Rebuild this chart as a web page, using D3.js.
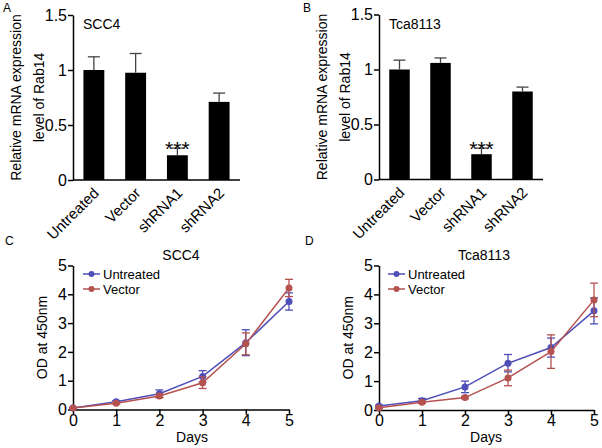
<!DOCTYPE html>
<html><head><meta charset="utf-8">
<script src="https://cdn.jsdelivr.net/npm/d3@7"></script>
<style>
body{margin:0;background:#fff;}
svg{font-family:"Liberation Sans",Arial,sans-serif;}
</style></head><body>
<svg id="c" width="602" height="448"></svg>
<script>
// ---- data ----
const barCategories = ["Untreated","Vector","shRNA1","shRNA2"];
const barTicks = [0,0.5,1,1.5];
const barTickLabels = ["0","0.5","1","1.5"];
const scc4Expr = [1.00, 0.975, 0.225, 0.71];
const scc4ExprErr = [0.12, 0.175, 0.065, 0.08];
const tcaExpr = [1.00, 1.06, 0.23, 0.80];
const tcaExprErr = [0.085, 0.045, 0.055, 0.04];
const sigLabels = ["", "", "***", ""];

const days = [0,1,2,3,4,5];
const scc4Untreated = [0.05, 0.27, 0.55, 1.15, 2.32, 3.75];
const scc4UntreatedErr = [0.02, 0.04, 0.13, 0.20, 0.45, 0.30];
const scc4Vector = [0.05, 0.22, 0.47, 0.93, 2.28, 4.22];
const scc4VectorErr = [0.02, 0.03, 0.06, 0.20, 0.38, 0.30];
const tcaUntreated = [0.14, 0.32, 0.80, 1.62, 2.16, 3.43];
const tcaUntreatedErr = [0.03, 0.08, 0.20, 0.30, 0.33, 0.45];
const tcaVector = [0.08, 0.27, 0.43, 1.11, 2.02, 3.81];
const tcaVectorErr = [0.02, 0.03, 0.04, 0.27, 0.58, 0.58];
const odTicks = [0,1,2,3,4,5];
const seriesNames = ["Untreated","Vector"];
const seriesColors = ["#4f4fb8","#b55250"];

const svg = d3.select("#c");

function barPanel(o){
  const g = svg.append("g");
  const y = d3.scaleLinear().domain([0,1.5]).range([o.y0, o.y1]);
  const x = d3.scaleBand().domain(barCategories).range([o.x0, o.x1]).paddingInner(0.5).paddingOuter(0.25);
  g.selectAll("rect.b").data(o.vals).join("rect")
    .attr("x",(d,i)=>x(barCategories[i])).attr("width",x.bandwidth())
    .attr("y",d=>y(d)).attr("height",d=>y(0)-y(d)).attr("fill","#000");
  const eb = g.selectAll("g.e").data(o.vals).join("g");
  eb.append("line").attr("x1",(d,i)=>x(barCategories[i])+x.bandwidth()/2).attr("x2",(d,i)=>x(barCategories[i])+x.bandwidth()/2)
    .attr("y1",d=>y(d)).attr("y2",(d,i)=>y(d+o.err[i])).attr("stroke","#444").attr("stroke-width",1.3);
  eb.append("line").attr("x1",(d,i)=>x(barCategories[i])+x.bandwidth()/2-6).attr("x2",(d,i)=>x(barCategories[i])+x.bandwidth()/2+6)
    .attr("y1",(d,i)=>y(d+o.err[i])).attr("y2",(d,i)=>y(d+o.err[i])).attr("stroke","#444").attr("stroke-width",1.3);
  g.selectAll("text.s").data(o.vals).join("text")
    .attr("x",(d,i)=>x(barCategories[i])+x.bandwidth()/2)
    .attr("y",(d,i)=>y(d+o.err[i])+8).attr("text-anchor","middle")
    .attr("font-size",21).text((d,i)=>sigLabels[i]);
  const ya = g.append("g").attr("transform",`translate(${o.x0},0)`)
    .call(d3.axisLeft(y).tickValues(barTicks).tickFormat((d,i)=>barTickLabels[i]).tickSize(5).tickSizeOuter(0).tickPadding(1));
  ya.selectAll("text").attr("font-size",16).attr("fill","#000").attr("font-family","Liberation Sans, Arial");
  ya.selectAll("line,path").attr("stroke","#000").attr("stroke-width",1.5);
  const xa = g.append("g").attr("transform",`translate(0,${o.y0})`)
    .call(d3.axisBottom(x).tickSize(0).tickSizeOuter(0).tickPadding(0));
  xa.select("path").attr("d",`M${o.x0},0H${o.x1}`).attr("stroke","#000").attr("stroke-width",1.5);
  xa.selectAll(".tick text").attr("font-size",15).attr("fill","#000").attr("font-family","Liberation Sans, Arial")
    .attr("text-anchor","end").attr("dy",0).attr("y",0)
    .attr("transform",`translate(6,14) rotate(-45)`);
  g.append("text").attr("transform",`translate(${o.x0-52},${(o.y0+o.y1)/2}) rotate(-90)`)
    .attr("text-anchor","middle").attr("font-size",14).text("Relative mRNA expression");
  g.append("text").attr("transform",`translate(${o.x0-29},${(o.y0+o.y1)/2}) rotate(-90)`)
    .attr("text-anchor","middle").attr("font-size",14).text("level of Rab14");
  g.append("text").attr("x",o.x0+10).attr("y",o.y1+14).attr("font-size",14).text(o.title);
  g.append("text").attr("x",o.lx).attr("y",o.ly).attr("font-size",12).text(o.letter);
}

function linePanel(o){
  const g = svg.append("g");
  const x = d3.scaleLinear().domain([0,5]).range([o.x0,o.x1]);
  const y = d3.scaleLinear().domain([0,5]).range([o.y0,o.y1]);
  const ya = g.append("g").attr("transform",`translate(${o.x0},0)`)
    .call(d3.axisLeft(y).tickValues(odTicks).tickFormat(d3.format("d")).tickSize(5).tickSizeOuter(0).tickPadding(1));
  const xa = g.append("g").attr("transform",`translate(0,${o.y0})`)
    .call(d3.axisBottom(x).tickValues(days).tickFormat(d3.format("d")).tickSize(5).tickSizeOuter(0).tickPadding(0));
  [ya,xa].forEach(a=>{
    a.selectAll("text").attr("font-size",16).attr("fill","#000").attr("font-family","Liberation Sans, Arial");
    a.selectAll("line,path").attr("stroke","#000").attr("stroke-width",1.5);
  });
  const line = d3.line().x((d,i)=>x(days[i])).y(d=>y(d));
  o.series.forEach((s,k)=>{
    const c = seriesColors[k];
    g.append("path").datum(s.v).attr("d",line).attr("fill","none").attr("stroke",c).attr("stroke-width",1.5);
    const e = g.append("g").selectAll("g").data(s.v).join("g").attr("stroke",c).attr("stroke-width",1.3);
    e.append("line").attr("x1",(d,i)=>x(days[i])).attr("x2",(d,i)=>x(days[i]))
      .attr("y1",(d,i)=>y(d+s.e[i])).attr("y2",(d,i)=>y(d-s.e[i]));
    e.append("line").attr("x1",(d,i)=>x(days[i])-4).attr("x2",(d,i)=>x(days[i])+4)
      .attr("y1",(d,i)=>y(d+s.e[i])).attr("y2",(d,i)=>y(d+s.e[i]));
    e.append("line").attr("x1",(d,i)=>x(days[i])-4).attr("x2",(d,i)=>x(days[i])+4)
      .attr("y1",(d,i)=>y(d-s.e[i])).attr("y2",(d,i)=>y(d-s.e[i]));
    g.append("g").selectAll("circle").data(s.v).join("circle")
      .attr("cx",(d,i)=>x(days[i])).attr("cy",d=>y(d)).attr("r",3.5).attr("fill",c);
  });
  seriesNames.forEach((n,k)=>{
    const ly = o.legY + k*15;
    g.append("line").attr("x1",o.legX).attr("x2",o.legX+17).attr("y1",ly).attr("y2",ly).attr("stroke",seriesColors[k]).attr("stroke-width",1.5);
    g.append("circle").attr("cx",o.legX+8.5).attr("cy",ly).attr("r",3).attr("fill",seriesColors[k]);
    g.append("text").attr("x",o.legX+20).attr("y",ly+5).attr("font-size",13).text(n);
  });
  g.append("text").attr("x",o.tx).attr("y",o.y1-6).attr("text-anchor","middle").attr("font-size",14).text(o.title);
  g.append("text").attr("x",o.dx).attr("y",o.y0+32).attr("text-anchor","middle").attr("font-size",14).text("Days");
  g.append("text").attr("transform",`translate(${o.x0-26},${(o.y0+o.y1)/2}) rotate(-90)`)
    .attr("text-anchor","middle").attr("font-size",14).text("OD at 450nm");
  g.append("text").attr("x",o.lx).attr("y",o.ly).attr("font-size",12).text(o.letter);
}

barPanel({x0:73,x1:240,y0:180,y1:15,vals:scc4Expr,err:scc4ExprErr,title:"SCC4",letter:"A",lx:3,ly:12});
barPanel({x0:379,x1:543,y0:179.5,y1:14.5,vals:tcaExpr,err:tcaExprErr,title:"Tca8113",letter:"B",lx:303,ly:12});
linePanel({x0:73,x1:289,y0:409.5,y1:265.5,series:[{v:scc4Untreated,e:scc4UntreatedErr},{v:scc4Vector,e:scc4VectorErr}],
  title:"SCC4",tx:181,dx:192,legX:83,legY:274,letter:"C",lx:5,ly:245});
linePanel({x0:379,x1:594,y0:410,y1:265.5,series:[{v:tcaUntreated,e:tcaUntreatedErr},{v:tcaVector,e:tcaVectorErr}],
  title:"Tca8113",tx:484,dx:486,legX:388,legY:274,letter:"D",lx:305,ly:245});
</script></body></html>
